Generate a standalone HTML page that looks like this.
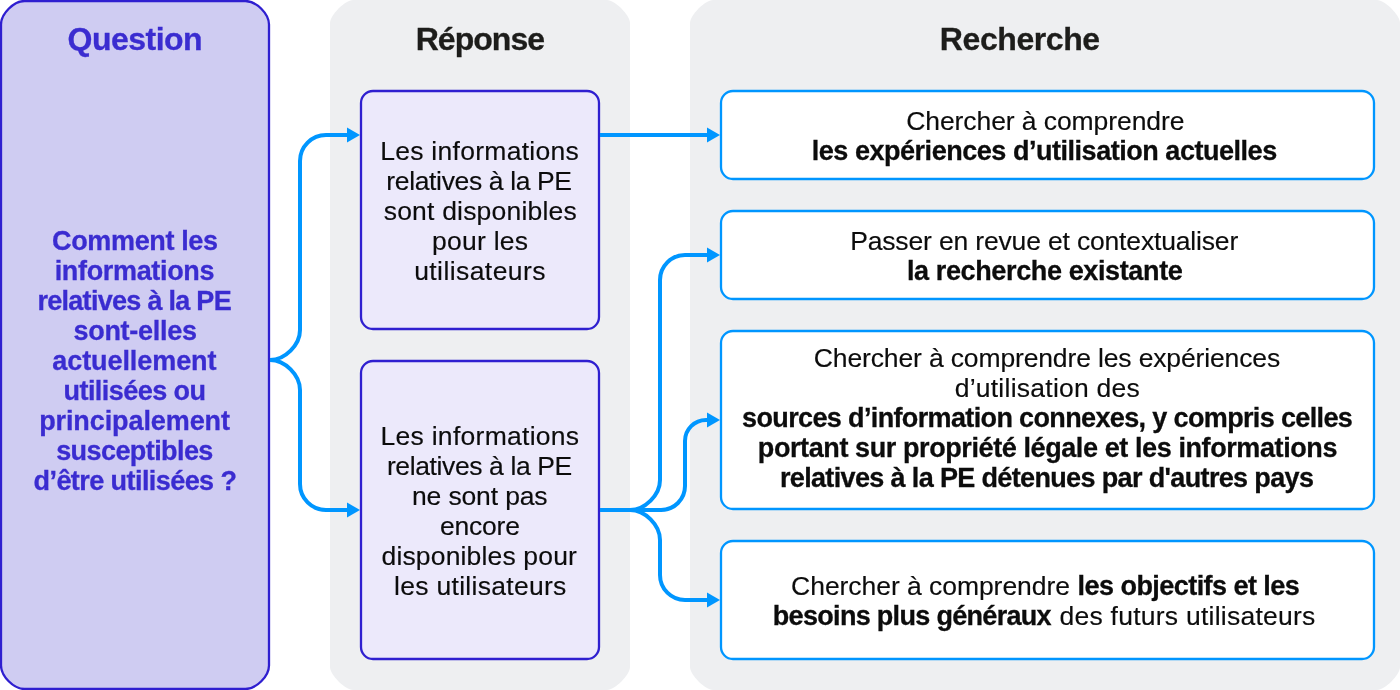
<!DOCTYPE html>
<html lang="fr">
<head>
<meta charset="utf-8">
<title>Question – Réponse – Recherche</title>
<style>
html,body{margin:0;padding:0;background:#fff;overflow:hidden;}
body{width:1400px;height:690px;position:relative;overflow:hidden;font-family:"Liberation Sans",sans-serif;}
svg{position:absolute;left:0;top:0;display:block;}
#txt{position:absolute;left:0;top:0;width:1400px;height:690px;overflow:hidden;will-change:transform;}
.t{position:absolute;width:1000px;height:30px;line-height:30px;text-align:center;white-space:nowrap;-webkit-text-stroke:0.15px currentColor;}
.t.b{-webkit-text-stroke:0.3px currentColor;}
</style>
</head>
<body>
<svg width="1400" height="690" viewBox="0 0 1400 690">
<path d="M353,0 H607 C614.82,0 630,15.18 630,23 V667 C630,674.82 614.82,690 607,690 H353 C345.18,690 330,674.82 330,667 V23 C330,15.18 345.18,0 353,0 Z" fill="#eeeff1"/>
<path d="M713,0 H1377 C1384.82,0 1400,15.18 1400,23 V667 C1400,674.82 1384.82,690 1377,690 H713 C705.18,690 690,674.82 690,667 V23 C690,15.18 705.18,0 713,0 Z" fill="#eeeff1"/>
<path d="M24.5,1 H245.5 C256.31,1 269,13.69 269,24.5 V665.5 C269,676.31 256.31,689 245.5,689 H24.5 C13.69,689 1,676.31 1,665.5 V24.5 C1,13.69 13.69,1 24.5,1 Z" fill="#cfccf2" stroke="#2f1fd0" stroke-width="2.3"/>
<rect x="361" y="91" width="238" height="238" rx="12" fill="#ece9fb" stroke="#2f1fd0" stroke-width="2.3"/>
<rect x="361" y="361" width="238" height="298" rx="12" fill="#ece9fb" stroke="#2f1fd0" stroke-width="2.3"/>
<rect x="721" y="91" width="653" height="88" rx="12" fill="#ffffff" stroke="#0096ff" stroke-width="2.3"/>
<rect x="721" y="211" width="653" height="88" rx="12" fill="#ffffff" stroke="#0096ff" stroke-width="2.3"/>
<rect x="721" y="331" width="653" height="178" rx="12" fill="#ffffff" stroke="#0096ff" stroke-width="2.3"/>
<rect x="721" y="541" width="653" height="118" rx="12" fill="#ffffff" stroke="#0096ff" stroke-width="2.3"/>
<path d="M270,360 C285,360 300,345 300,330 V161 A26,26 0 0 1 326,135 H348" fill="none" stroke="#0096ff" stroke-width="4"/>
<path d="M270,360 C285,360 300,375 300,390 V484 A26,26 0 0 0 326,510 H348" fill="none" stroke="#0096ff" stroke-width="4"/>
<path d="M600,135 H708" fill="none" stroke="#0096ff" stroke-width="4"/>
<path d="M600,510 H630 C645,510 660,495 660,480 V280 A25,25 0 0 1 685,255 H708" fill="none" stroke="#0096ff" stroke-width="4"/>
<path d="M600,510 H630 C645,510 660,525 660,540 V575 A25,25 0 0 0 685,600 H708" fill="none" stroke="#0096ff" stroke-width="4"/>
<path d="M600,510 H661 A24,24 0 0 0 685,486 V441 A21,21 0 0 1 706,420 H708" fill="none" stroke="#0096ff" stroke-width="4"/>
<path d="M347,127.5 L360,135 L347,142.5 Z" fill="#0096ff"/>
<path d="M347,502.5 L360,510 L347,517.5 Z" fill="#0096ff"/>
<path d="M707,127.5 L720,135 L707,142.5 Z" fill="#0096ff"/>
<path d="M707,247.5 L720,255 L707,262.5 Z" fill="#0096ff"/>
<path d="M707,412.5 L720,420 L707,427.5 Z" fill="#0096ff"/>
<path d="M707,592.5 L720,600 L707,607.5 Z" fill="#0096ff"/>
</svg>
<div id="txt">
<div class="t b" id="t1" style="left:-365.16px;top:24.00px;font-size:32px;font-weight:700;color:#3a2cd0;letter-spacing:-0.514px">Question</div>
<div class="t b" id="t2" style="left:-20.13px;top:24.00px;font-size:32px;font-weight:700;color:#1d1d1b;letter-spacing:-0.967px">Réponse</div>
<div class="t b" id="t3" style="left:519.79px;top:24.00px;font-size:32px;font-weight:700;color:#1d1d1b;letter-spacing:-0.425px">Recherche</div>
<div class="t b" id="q0" style="left:-365.13px;top:226.01px;font-size:27px;font-weight:700;color:#3a2cd0;letter-spacing:-0.360px">Comment les</div>
<div class="t b" id="q1" style="left:-365.56px;top:256.01px;font-size:27px;font-weight:700;color:#3a2cd0;letter-spacing:-0.328px">informations</div>
<div class="t b" id="q2" style="left:-365.81px;top:286.01px;font-size:27px;font-weight:700;color:#3a2cd0;letter-spacing:-0.712px">relatives à la PE</div>
<div class="t b" id="q3" style="left:-364.94px;top:316.01px;font-size:27px;font-weight:700;color:#3a2cd0;letter-spacing:-0.289px">sont-elles</div>
<div class="t b" id="q4" style="left:-365.64px;top:346.01px;font-size:27px;font-weight:700;color:#3a2cd0;letter-spacing:-0.072px">actuellement</div>
<div class="t b" id="q5" style="left:-365.52px;top:376.01px;font-size:27px;font-weight:700;color:#3a2cd0;letter-spacing:-0.545px">utilisées ou</div>
<div class="t b" id="q6" style="left:-365.50px;top:406.01px;font-size:27px;font-weight:700;color:#3a2cd0;letter-spacing:-0.093px">principalement</div>
<div class="t b" id="q7" style="left:-365.54px;top:436.01px;font-size:27px;font-weight:700;color:#3a2cd0;letter-spacing:-0.582px">susceptibles</div>
<div class="t b" id="q8" style="left:-365.03px;top:466.01px;font-size:27px;font-weight:700;color:#3a2cd0;letter-spacing:-0.565px">d’être utilisées ?</div>
<div class="t" id="a0" style="left:-20.41px;top:136.02px;font-size:26.5px;font-weight:400;color:#0c0c0c;letter-spacing:0.280px">Les informations</div>
<div class="t" id="a1" style="left:-20.98px;top:166.02px;font-size:26.5px;font-weight:400;color:#0c0c0c;letter-spacing:-0.362px">relatives à la PE</div>
<div class="t" id="a2" style="left:-19.70px;top:196.02px;font-size:26.5px;font-weight:400;color:#0c0c0c;letter-spacing:0.200px">sont disponibles</div>
<div class="t" id="a3" style="left:-19.87px;top:226.02px;font-size:26.5px;font-weight:400;color:#0c0c0c;letter-spacing:0.257px">pour les</div>
<div class="t" id="a4" style="left:-19.99px;top:256.02px;font-size:26.5px;font-weight:400;color:#0c0c0c;letter-spacing:0.418px">utilisateurs</div>
<div class="t" id="b0" style="left:-20.06px;top:421.02px;font-size:26.5px;font-weight:400;color:#0c0c0c;letter-spacing:0.280px">Les informations</div>
<div class="t" id="b1" style="left:-20.64px;top:451.02px;font-size:26.5px;font-weight:400;color:#0c0c0c;letter-spacing:-0.387px">relatives à la PE</div>
<div class="t" id="b2" style="left:-20.27px;top:481.02px;font-size:26.5px;font-weight:400;color:#0c0c0c;letter-spacing:-0.140px">ne sont pas</div>
<div class="t" id="b3" style="left:-20.12px;top:511.02px;font-size:26.5px;font-weight:400;color:#0c0c0c;letter-spacing:-0.240px">encore</div>
<div class="t" id="b4" style="left:-20.72px;top:541.02px;font-size:26.5px;font-weight:400;color:#0c0c0c;letter-spacing:0.160px">disponibles pour</div>
<div class="t" id="b5" style="left:-19.65px;top:571.02px;font-size:26.5px;font-weight:400;color:#0c0c0c;letter-spacing:0.293px">les utilisateurs</div>
<div class="t" id="c0" style="left:545.31px;top:106.02px;font-size:26.5px;font-weight:400;color:#0c0c0c;letter-spacing:-0.080px">Chercher à comprendre</div>
<div class="t b" id="c1" style="left:544.22px;top:136.01px;font-size:27px;font-weight:700;color:#0c0c0c;letter-spacing:-0.468px">les expériences d’utilisation actuelles</div>
<div class="t" id="d0" style="left:544.17px;top:226.02px;font-size:26.5px;font-weight:400;color:#0c0c0c;letter-spacing:-0.163px">Passer en revue et contextualiser</div>
<div class="t b" id="d1" style="left:544.66px;top:256.01px;font-size:27px;font-weight:700;color:#0c0c0c;letter-spacing:-0.371px">la recherche existante</div>
<div class="t" id="e0" style="left:546.93px;top:343.02px;font-size:26.5px;font-weight:400;color:#0c0c0c;letter-spacing:-0.139px">Chercher à comprendre les expériences</div>
<div class="t" id="e1" style="left:547.38px;top:373.02px;font-size:26.5px;font-weight:400;color:#0c0c0c;letter-spacing:0.250px">d’utilisation des</div>
<div class="t b" id="e2" style="left:547.18px;top:403.01px;font-size:27px;font-weight:700;color:#0c0c0c;letter-spacing:-0.638px">sources d’information connexes, y compris celles</div>
<div class="t b" id="e3" style="left:547.45px;top:433.01px;font-size:27px;font-weight:700;color:#0c0c0c;letter-spacing:-0.405px">portant sur propriété légale et les informations</div>
<div class="t b" id="e4" style="left:546.63px;top:463.01px;font-size:27px;font-weight:700;color:#0c0c0c;letter-spacing:-0.642px">relatives à la PE détenues par d'autres pays</div>
<div class="t" id="f0" style="left:430.52px;top:571.02px;font-size:26.5px;font-weight:400;color:#0c0c0c;letter-spacing:-0.050px">Chercher à comprendre</div>
<div class="t b" id="f1" style="left:688.43px;top:571.01px;font-size:27px;font-weight:700;color:#0c0c0c;letter-spacing:-0.548px">les objectifs et les</div>
<div class="t b" id="f2" style="left:411.86px;top:601.01px;font-size:27px;font-weight:700;color:#0c0c0c;letter-spacing:-0.690px">besoins plus généraux</div>
<div class="t" id="f3" style="left:687.52px;top:601.02px;font-size:26.5px;font-weight:400;color:#0c0c0c;letter-spacing:0.246px">des futurs utilisateurs</div>
</div>
</body>
</html>
